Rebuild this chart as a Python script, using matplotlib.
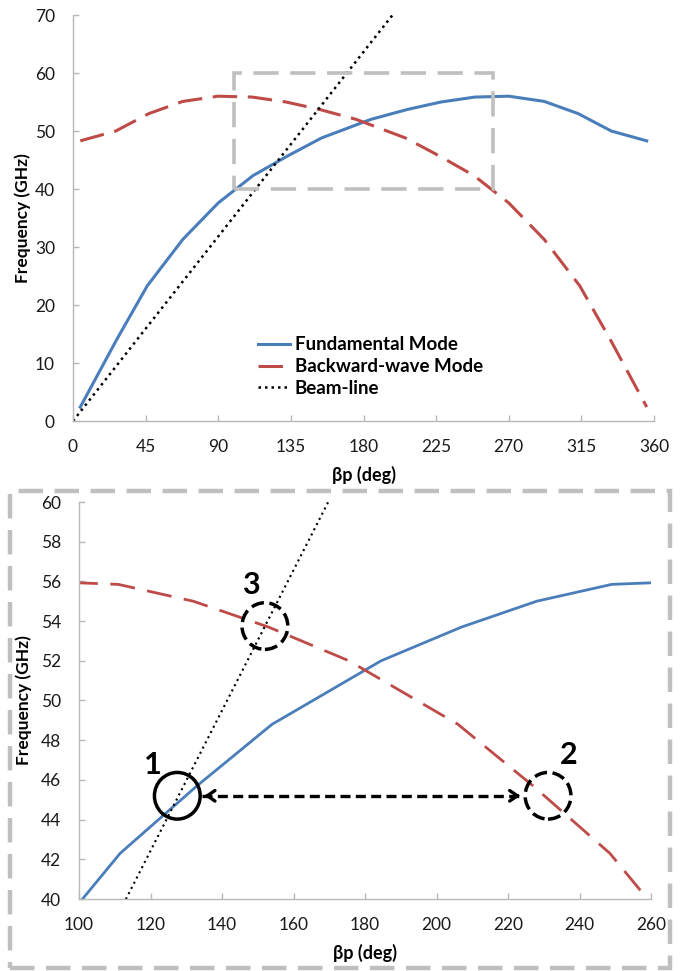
import matplotlib.pyplot as plt
from matplotlib.patches import Rectangle, Ellipse

# =====================================
# DATA
# =====================================

fund_x = [4.5, 27, 46, 68, 90, 111.5, 133, 154, 184.5, 207, 228, 249, 270, 292, 313, 333.5, 355.5]
fund_y = [2.4, 14, 23.3, 31.3, 37.6, 42.3, 45.7, 48.8, 52, 53.7, 55, 55.85, 56, 55.1, 53, 50, 48.3]

back_x = [4.5, 26.5, 47, 68, 90, 111, 132, 153, 175.5, 206, 227, 248.5, 270, 292, 314, 333, 355.5]
back_y = [48.3, 50, 53, 55.1, 56, 55.85, 55, 53.7, 52, 48.8, 45.7, 42.3, 37.6, 31.3, 23.3, 14, 2.4]

beam_x = [0, 198]
beam_y = [0, 70]

top_xticks = [0, 45, 90, 135, 180, 225, 270, 315, 360]
top_yticks = [0, 10, 20, 30, 40, 50, 60, 70]
zoom_xticks = [100, 120, 140, 160, 180, 200, 220, 240, 260]
zoom_yticks = [40, 42, 44, 46, 48, 50, 52, 54, 56, 58, 60]

# zoom window (deg, GHz)
zoom_box = [100, 260, 40, 60]

# marked points: label, centre x, centre y, circle style, label x, label y
marks = [
    ("1", 127.5, 45.2, "-", 120.7, 46.75),
    ("2", 231.2, 45.2, "--", 237.0, 47.25),
    ("3", 152.0, 53.75, "--", 148.0, 55.8),
]
arrow_span = [134.3, 224.2, 45.2]

# =====================================
# STYLE
# =====================================

plt.rcParams["font.family"] = ["Lato", "DejaVu Sans"]
blue = "#4A7EBB"
red = "#BE4B48"
gray = "#BFBFBF"
axis_gray = "#B8B8B8"

fig = plt.figure(figsize=(6.94, 9.71), dpi=100)

ax1 = fig.add_axes([73 / 694, 1 - 421 / 971, (654 - 73) / 694, (421 - 15) / 971])
ax2 = fig.add_axes([79 / 694, 1 - 899 / 971, (651 - 79) / 694, (899 - 502) / 971])


def style_axes(ax, ylabelpad):
    for side in ["top", "right"]:
        ax.spines[side].set_visible(False)
    for side in ["left", "bottom"]:
        ax.spines[side].set_color(axis_gray)
        ax.spines[side].set_linewidth(1.0)
    ax.tick_params(direction="in", length=4, width=1.0, color=axis_gray,
                   labelsize=12.5, labelcolor="#1a1a1a", pad=13)
    ax.set_xlabel("\u03b2p (deg)", fontsize=13, fontweight="bold", labelpad=8)
    ax.set_ylabel("Frequency (GHz)", fontsize=12.5, fontweight="bold", labelpad=ylabelpad)


# =====================================
# TOP CHART: FULL DISPERSION DIAGRAM
# =====================================

ax1.plot(fund_x, fund_y, color=blue, lw=2.2, label="Fundamental Mode")
ax1.plot(back_x, back_y, color=red, lw=2.2, dashes=(8, 3.5), label="Backward-wave Mode")
ax1.plot(beam_x, beam_y, color="black", lw=1.8, dashes=(1, 1.6), label="Beam-line")

ax1.add_patch(Rectangle((zoom_box[0], zoom_box[2]), zoom_box[1] - zoom_box[0],
                        zoom_box[3] - zoom_box[2], fill=False, ec=gray, lw=2.6,
                        ls=(0, (7, 3.2)), zorder=5))

ax1.set_xlim(0, 360)
ax1.set_ylim(0, 70)
ax1.set_xticks(top_xticks)
ax1.set_yticks(top_yticks)
style_axes(ax1, 3)

leg = ax1.legend(loc="upper left", bbox_to_anchor=(0.29, 0.25), frameon=False,
                 handlelength=1.7, handletextpad=0.25, labelspacing=0.25,
                 prop={"size": 13.5, "weight": "bold"})

# =====================================
# BOTTOM CHART: ZOOMED REGION
# =====================================

ax2.plot(fund_x, fund_y, color=blue, lw=2.0)
ax2.plot(back_x, back_y, color=red, lw=2.0, dashes=(9, 4.5))
ax2.plot(beam_x, beam_y, color="black", lw=1.5, dashes=(1, 1.8))

for label, cx, cy, ls, tx, ty in marks:
    ax2.add_patch(Ellipse((cx, cy), 12.8, 2.35, fill=False, ec="black",
                          lw=2.5, ls=ls, zorder=6))
    ax2.text(tx, ty, label, fontsize=22, fontweight="bold", ha="center", va="center")

ax2.plot(arrow_span[:2], [arrow_span[2]] * 2, color="black", lw=2.4, dashes=(3, 1.6))
ax2.annotate("", xy=(arrow_span[0], arrow_span[2]), xytext=(arrow_span[0] + 3, arrow_span[2]),
             arrowprops=dict(arrowstyle="->, head_length=0.55, head_width=0.38", lw=2.4, color="black"))
ax2.annotate("", xy=(arrow_span[1], arrow_span[2]), xytext=(arrow_span[1] - 3, arrow_span[2]),
             arrowprops=dict(arrowstyle="->, head_length=0.55, head_width=0.38", lw=2.4, color="black"))

ax2.set_xlim(zoom_box[0], zoom_box[1])
ax2.set_ylim(zoom_box[2], zoom_box[3])
ax2.set_xticks(zoom_xticks)
ax2.set_yticks(zoom_yticks)
style_axes(ax2, 6)

# dashed frame around the zoomed chart
frame = Rectangle((9.5 / 694, 1 - 968 / 971), (670 - 9.5) / 694, (968 - 491) / 971,
                  transform=fig.transFigure, fill=False, ec=gray, lw=3.2,
                  ls=(0, (5.5, 2.6)), clip_on=False)
fig.add_artist(frame)

plt.savefig("out.png", dpi=100)
